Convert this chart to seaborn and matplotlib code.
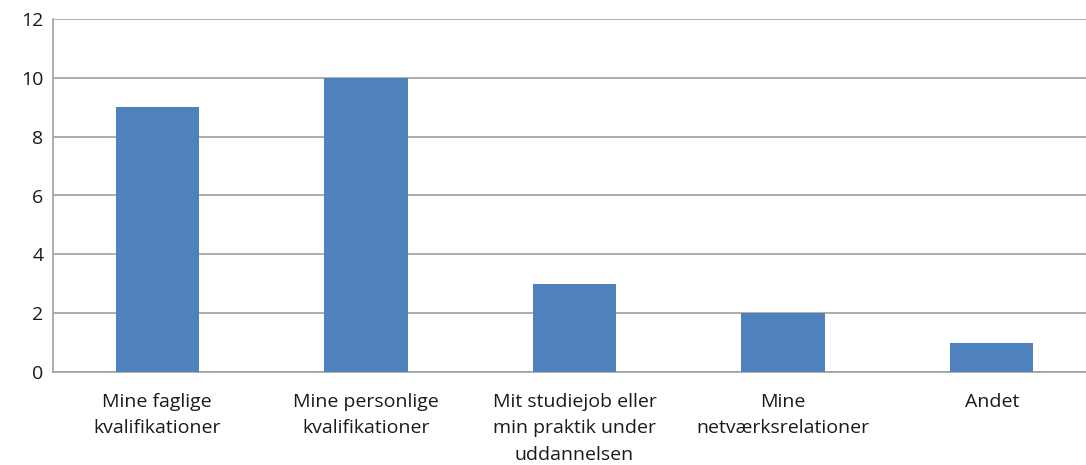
import matplotlib
matplotlib.use("Agg")
import matplotlib.pyplot as plt
import seaborn as sns
import pandas as pd

categories = [
    "Mine faglige\nkvalifikationer",
    "Mine personlige\nkvalifikationer",
    "Mit studiejob eller\nmin praktik under\nuddannelsen",
    "Mine\nnetværksrelationer",
    "Andet",
]
values = [9, 10, 3, 2, 1]
y_ticks = [0, 2, 4, 6, 8, 10, 12]

df = pd.DataFrame({"kategori": categories, "antal": values})

sns.set_style("white")
plt.rcParams["font.family"] = ["Open Sans", "DejaVu Sans"]

fig = plt.figure(figsize=(10.86, 4.65), dpi=100)
ax = fig.add_axes([53 / 1086, 1 - 372 / 465, 1043 / 1086, (372 - 19) / 465])

sns.barplot(data=df, x="kategori", y="antal", color="#4F81BD", width=0.4,
            saturation=1, linewidth=0, ax=ax, zorder=3)

ax.set_ylim(0, 12)
ax.set_yticks(y_ticks)
ax.set_yticklabels([str(t) for t in y_ticks], fontsize=14, color="#1a1a1a")
ax.tick_params(axis="x", labelsize=14, colors="#1a1a1a", length=0, pad=15)
ax.tick_params(axis="y", length=0, pad=7)
for lbl in ax.get_xticklabels():
    lbl.set_linespacing(1.6)
    lbl.set_verticalalignment("top")
ax.grid(axis="y", color="#A0A0A0", linewidth=1.2, zorder=0)
ax.set_xlabel("")
ax.set_ylabel("")
for s in ["top", "right"]:
    ax.spines[s].set_visible(False)
ax.spines["left"].set_color("#A0A0A0")
ax.spines["bottom"].set_color("#A0A0A0")
ax.spines["left"].set_linewidth(1.2)
ax.spines["bottom"].set_linewidth(1.2)

fig.savefig("out.png", dpi=100)
